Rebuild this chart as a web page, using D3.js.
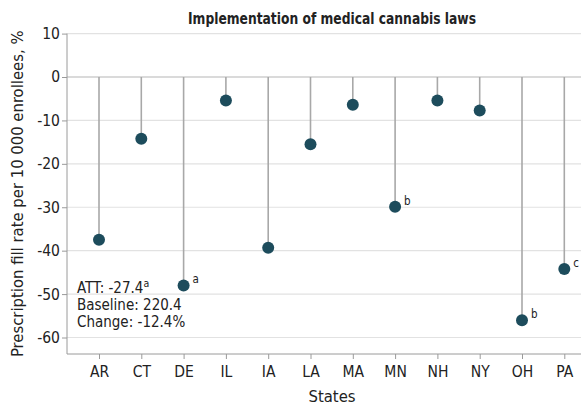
<!DOCTYPE html>
<html>
<head>
<meta charset="utf-8">
<script src="https://cdn.jsdelivr.net/npm/d3@7"></script>
<style>
  html, body { margin: 0; padding: 0; background: #fff; }
  svg { display: block; }
  text { font-family: "DejaVu Sans Condensed", "Liberation Sans Narrow", "Roboto", sans-serif; fill: #222; }
</style>
</head>
<body>
<svg id="chart" width="581" height="406"></svg>
<script>
// States and their change in prescription fill rate (per 10 000 enrollees, %)
const states = ["AR", "CT", "DE", "IL", "IA", "LA", "MA", "MN", "NH", "NY", "OH", "PA"];
const values = [-37.5, -14.2, -48.0, -5.4, -39.3, -15.5, -6.4, -29.9, -5.4, -7.7, -56.0, -44.2];
const notes  = ["", "", "a", "", "", "", "", "b", "", "", "b", "c"];
const yTicks = [10, 0, -10, -20, -30, -40, -50, -60];
const summary = [
  { label: "ATT: -27.4", sup: "a" },
  { label: "Baseline: 220.4", sup: "" },
  { label: "Change: -12.4%", sup: "" }
];

const svg = d3.select("#chart");
const plotLeft = 67, plotRight = 581, plotBottom = 354;
const tickFont = "'DejaVu Sans Condensed', 'Liberation Sans Narrow', sans-serif";

const x = d3.scalePoint().domain(states).range([99, 564.3]);
const y = d3.scaleLinear().domain([-60, 10]).range([337.5, 33.6]);

// horizontal gridlines
svg.append("g").selectAll("line").data(yTicks).join("line")
  .attr("x1", plotLeft).attr("x2", plotRight)
  .attr("y1", d => y(d)).attr("y2", d => y(d))
  .attr("stroke", d => d === 0 ? "#b5b5b5" : "#e2e2e2")
  .attr("stroke-width", 1.2);

// y axis
const yAxis = svg.append("g").attr("transform", `translate(${plotLeft},0)`)
  .call(d3.axisLeft(y).tickValues(yTicks).tickSize(5).tickSizeOuter(0).tickFormat(d3.format("d")));
yAxis.select(".domain").attr("stroke", "#9a9a9a").attr("d", `M0,${y(10)}V${plotBottom}`);
yAxis.selectAll(".tick line").attr("stroke", "#9a9a9a");
yAxis.selectAll(".tick text").attr("font-size", 15.5).attr("x", -7)
  .style("font-family", tickFont).attr("fill", "#222")
  .text(d => d < 0 ? "-" + Math.abs(d) : d);

// x axis
const xAxis = svg.append("g").attr("transform", `translate(0,${plotBottom})`)
  .call(d3.axisBottom(x).tickSize(5).tickSizeOuter(0));
xAxis.select(".domain").attr("stroke", "#9a9a9a").attr("d", `M${plotLeft},0H${plotRight}`);
xAxis.selectAll(".tick line").attr("stroke", "#9a9a9a");
xAxis.selectAll(".tick text").attr("font-size", 15.5).attr("dy", "0.95em")
  .style("font-family", tickFont).attr("fill", "#222");

// stems
svg.append("g").selectAll("line").data(states).join("line")
  .attr("x1", d => x(d)).attr("x2", d => x(d))
  .attr("y1", y(0)).attr("y2", (d, i) => y(values[i]))
  .attr("stroke", "#a8a8a8").attr("stroke-width", 1.6);

// dots
svg.append("g").selectAll("circle").data(states).join("circle")
  .attr("cx", d => x(d)).attr("cy", (d, i) => y(values[i]))
  .attr("r", 6).attr("fill", "#1d4c5c");

// footnote letters
svg.append("g").selectAll("text").data(states.filter((d, i) => notes[i]))
  .join("text")
  .attr("x", d => x(d) + 9)
  .attr("y", d => y(values[states.indexOf(d)]) - 2)
  .attr("font-size", 11.5).attr("fill", "#333")
  .text(d => notes[states.indexOf(d)]);

// summary box
const sumG = svg.append("g");
summary.forEach((s, i) => {
  const t = sumG.append("text").attr("x", 77).attr("y", 293 + i * 17.2).attr("font-size", 15);
  t.append("tspan").text(s.label);
  if (s.sup) t.append("tspan").attr("dy", -6).attr("font-size", 10.5).text(s.sup);
});

// title
svg.append("text").attr("x", 332).attr("y", 24).attr("text-anchor", "middle")
  .attr("font-size", 15.5).attr("font-weight", "bold").attr("fill", "#222")
  .attr("textLength", 288).attr("lengthAdjust", "spacingAndGlyphs")
  .text("Implementation of medical cannabis laws");

// axis titles
svg.append("text").attr("x", 332).attr("y", 402).attr("text-anchor", "middle")
  .attr("font-size", 16.5).text("States");
svg.append("text").attr("transform", `translate(23,${(y(10) + plotBottom) / 2}) rotate(-90)`)
  .attr("text-anchor", "middle").attr("font-size", 16.5)
  .text("Prescription fill rate per 10 000 enrollees, %");
</script>
</body>
</html>
